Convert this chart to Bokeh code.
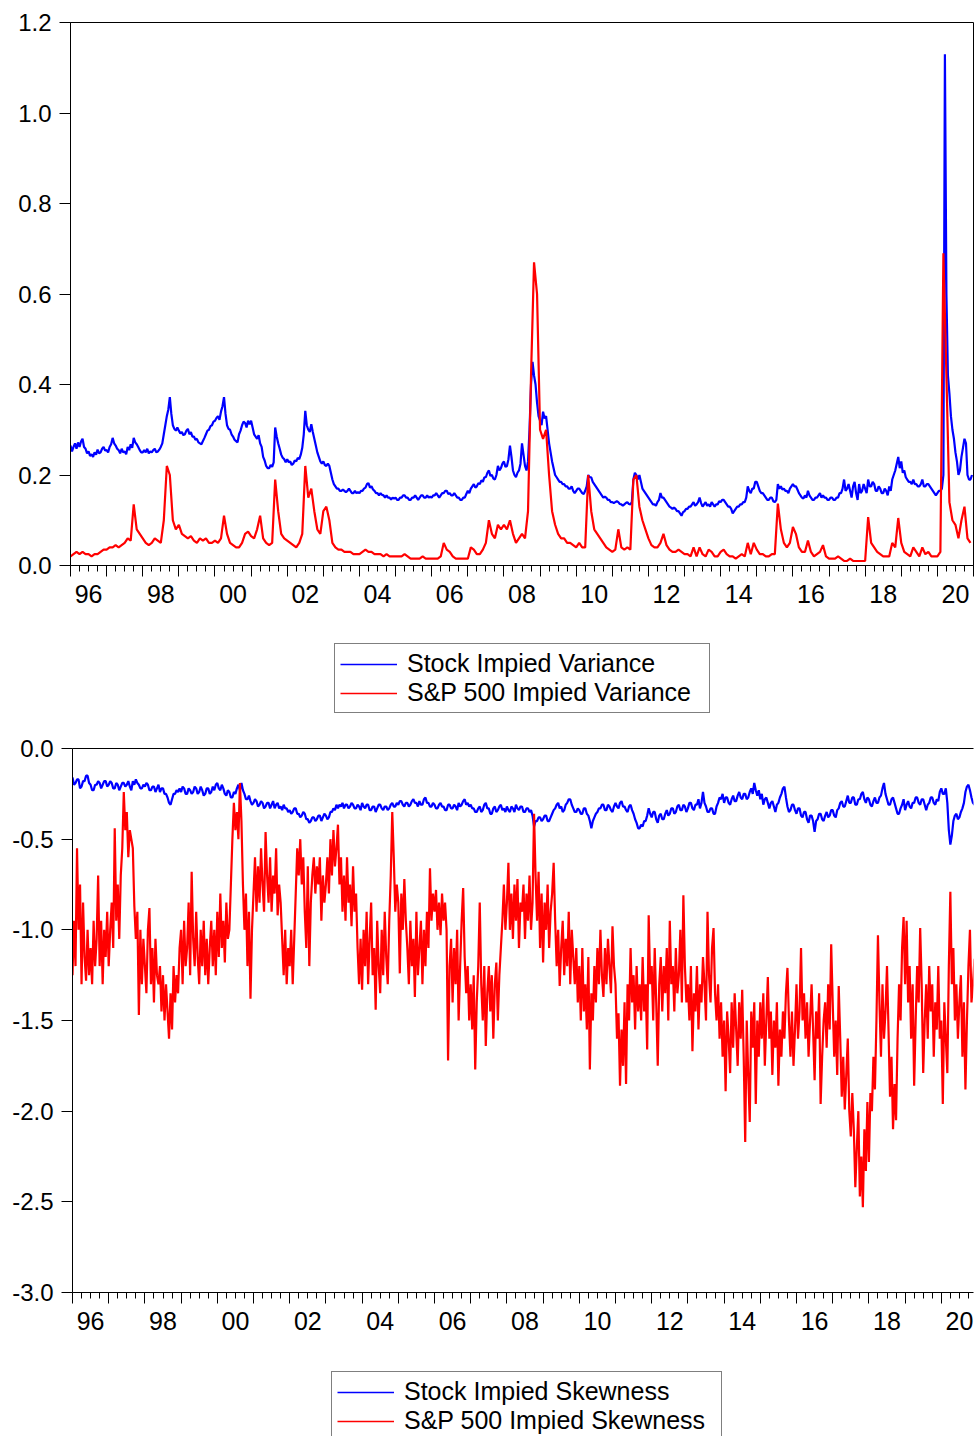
import numpy as np
from bokeh.plotting import figure
from bokeh.layouts import column
from bokeh.models import (Range1d, LinearAxis, FixedTicker, Legend, LegendItem,
                          CustomJSTickFormatter, PrintfTickFormatter, CustomLabelingPolicy)
from bokeh.embed import file_html
from bokeh.resources import INLINE

FONT = "Liberation Sans"
BLUE = "#0000FF"
RED = "#FF0000"

# ---------------- data ----------------
# stock implied variance: two readings per month from Jan 1996
stock_var = [
    0.265, 0.252, 0.262, 0.270, 0.258, 0.272, 0.262, 0.274, 0.280, 0.262, 0.258, 0.248,
    0.252, 0.242, 0.246, 0.240, 0.250, 0.245, 0.256, 0.248, 0.250, 0.258, 0.262, 0.254,  # 1996
    0.255, 0.250, 0.262, 0.268, 0.282, 0.270, 0.265, 0.258, 0.255, 0.248, 0.258, 0.250,
    0.252, 0.246, 0.262, 0.255, 0.268, 0.260, 0.282, 0.272, 0.268, 0.262, 0.255, 0.250,  # 1997
    0.250, 0.255, 0.250, 0.258, 0.248, 0.252, 0.250, 0.255, 0.258, 0.250, 0.252, 0.256,
    0.262, 0.270, 0.290, 0.310, 0.330, 0.345, 0.372, 0.335, 0.310, 0.302, 0.298, 0.305,  # 1998
    0.298, 0.292, 0.295, 0.288, 0.290, 0.298, 0.302, 0.290, 0.295, 0.285, 0.285, 0.278,
    0.280, 0.272, 0.270, 0.268, 0.275, 0.282, 0.290, 0.298, 0.300, 0.308, 0.310, 0.318,  # 1999
    0.320, 0.326, 0.330, 0.322, 0.340, 0.352, 0.372, 0.335, 0.310, 0.302, 0.300, 0.290,
    0.285, 0.278, 0.275, 0.272, 0.290, 0.298, 0.310, 0.318, 0.315, 0.305, 0.320, 0.312,  # 2000
    0.320, 0.305, 0.290, 0.285, 0.280, 0.288, 0.270, 0.262, 0.240, 0.232, 0.220, 0.215,
    0.215, 0.222, 0.218, 0.228, 0.305, 0.285, 0.270, 0.258, 0.245, 0.238, 0.235, 0.228,  # 2001
    0.235, 0.228, 0.230, 0.222, 0.225, 0.232, 0.230, 0.238, 0.235, 0.245, 0.260, 0.290,
    0.342, 0.310, 0.300, 0.295, 0.312, 0.295, 0.280, 0.265, 0.250, 0.240, 0.230, 0.225,  # 2002
    0.230, 0.222, 0.220, 0.225, 0.220, 0.205, 0.190, 0.180, 0.175, 0.170, 0.170, 0.165,
    0.165, 0.168, 0.165, 0.162, 0.165, 0.170, 0.165, 0.160, 0.160, 0.165, 0.160, 0.162,  # 2003
    0.160, 0.165, 0.165, 0.170, 0.172, 0.180, 0.182, 0.172, 0.175, 0.168, 0.165, 0.160,
    0.160, 0.155, 0.160, 0.156, 0.155, 0.150, 0.155, 0.150, 0.150, 0.146, 0.150, 0.148,  # 2004
    0.150, 0.145, 0.145, 0.150, 0.150, 0.155, 0.155, 0.150, 0.150, 0.145, 0.145, 0.150,
    0.150, 0.155, 0.150, 0.145, 0.150, 0.155, 0.155, 0.150, 0.150, 0.155, 0.150, 0.152,  # 2005
    0.150, 0.155, 0.155, 0.160, 0.155, 0.150, 0.155, 0.160, 0.160, 0.165, 0.165, 0.158,
    0.160, 0.155, 0.155, 0.160, 0.155, 0.150, 0.150, 0.145, 0.145, 0.150, 0.150, 0.158,  # 2006
    0.165, 0.160, 0.170, 0.175, 0.180, 0.172, 0.175, 0.182, 0.180, 0.188, 0.185, 0.195,
    0.195, 0.205, 0.210, 0.198, 0.200, 0.192, 0.190, 0.200, 0.220, 0.210, 0.215, 0.225,  # 2007
    0.230, 0.218, 0.220, 0.235, 0.265, 0.240, 0.210, 0.200, 0.195, 0.205, 0.210, 0.225,
    0.270, 0.245, 0.220, 0.210, 0.230, 0.300, 0.400, 0.450, 0.420, 0.400, 0.360, 0.330,  # 2008
    0.320, 0.310, 0.340, 0.325, 0.330, 0.300, 0.270, 0.250, 0.230, 0.215, 0.200, 0.195,
    0.190, 0.185, 0.185, 0.180, 0.180, 0.175, 0.175, 0.170, 0.170, 0.175, 0.165, 0.160,  # 2009
    0.165, 0.170, 0.170, 0.165, 0.160, 0.158, 0.165, 0.175, 0.200, 0.195, 0.195, 0.185,
    0.180, 0.175, 0.170, 0.165, 0.160, 0.155, 0.150, 0.152, 0.150, 0.145, 0.145, 0.140,  # 2010
    0.140, 0.138, 0.140, 0.142, 0.140, 0.136, 0.135, 0.132, 0.135, 0.138, 0.140, 0.136,
    0.135, 0.140, 0.190, 0.205, 0.200, 0.190, 0.200, 0.185, 0.170, 0.165, 0.160, 0.155,  # 2011
    0.150, 0.145, 0.140, 0.135, 0.135, 0.132, 0.140, 0.145, 0.160, 0.150, 0.150, 0.145,
    0.140, 0.135, 0.130, 0.128, 0.125, 0.128, 0.125, 0.120, 0.120, 0.115, 0.110, 0.118,  # 2012
    0.120, 0.125, 0.125, 0.130, 0.130, 0.135, 0.140, 0.132, 0.135, 0.140, 0.150, 0.138,
    0.130, 0.135, 0.140, 0.132, 0.135, 0.130, 0.140, 0.135, 0.130, 0.135, 0.135, 0.142,  # 2013
    0.140, 0.145, 0.145, 0.140, 0.135, 0.130, 0.130, 0.125, 0.115, 0.120, 0.125, 0.130,
    0.130, 0.135, 0.135, 0.140, 0.140, 0.150, 0.175, 0.165, 0.160, 0.170, 0.170, 0.185,  # 2014
    0.185, 0.175, 0.165, 0.160, 0.160, 0.155, 0.150, 0.145, 0.145, 0.150, 0.150, 0.142,
    0.140, 0.145, 0.180, 0.170, 0.175, 0.168, 0.170, 0.165, 0.165, 0.160, 0.170, 0.175,  # 2015
    0.180, 0.175, 0.175, 0.168, 0.160, 0.155, 0.150, 0.148, 0.155, 0.150, 0.165, 0.155,
    0.150, 0.145, 0.145, 0.150, 0.150, 0.155, 0.160, 0.150, 0.155, 0.150, 0.150, 0.145,  # 2016
    0.145, 0.150, 0.150, 0.145, 0.145, 0.150, 0.150, 0.160, 0.160, 0.170, 0.190, 0.165,
    0.170, 0.180, 0.165, 0.150, 0.175, 0.185, 0.160, 0.145, 0.180, 0.160, 0.165, 0.180,  # 2017
    0.170, 0.160, 0.190, 0.175, 0.175, 0.185, 0.180, 0.165, 0.165, 0.175, 0.170, 0.160,
    0.160, 0.170, 0.165, 0.155, 0.175, 0.165, 0.190, 0.200, 0.210, 0.225, 0.240, 0.215,  # 2018
    0.230, 0.205, 0.210, 0.195, 0.190, 0.185, 0.185, 0.180, 0.190, 0.180, 0.180, 0.175,
    0.175, 0.180, 0.190, 0.175, 0.175, 0.180, 0.180, 0.175, 0.170, 0.165, 0.160, 0.155,  # 2019
    0.160, 0.165, 0.165, 0.170, 0.200, 1.130, 0.600, 0.420, 0.380, 0.330, 0.300, 0.280,
    0.250, 0.230, 0.200, 0.210, 0.240, 0.260, 0.280, 0.270, 0.200, 0.190, 0.190, 0.200,  # 2020
]

# S&P 500 implied variance: one reading per month from Jan 1996
sp_var = [
    0.02, 0.025, 0.03, 0.025, 0.03, 0.025, 0.025, 0.02, 0.025, 0.025, 0.03, 0.035,   # 1996
    0.035, 0.04, 0.04, 0.045, 0.04, 0.045, 0.05, 0.06, 0.055, 0.135, 0.08, 0.07,     # 1997
    0.06, 0.05, 0.045, 0.05, 0.06, 0.055, 0.05, 0.10, 0.22, 0.20, 0.10, 0.08,        # 1998
    0.09, 0.07, 0.065, 0.06, 0.065, 0.055, 0.05, 0.06, 0.055, 0.06, 0.05, 0.05,      # 1999
    0.055, 0.05, 0.06, 0.11, 0.07, 0.05, 0.045, 0.04, 0.04, 0.05, 0.07, 0.075,       # 2000
    0.065, 0.06, 0.08, 0.11, 0.06, 0.05, 0.045, 0.05, 0.19, 0.12, 0.07, 0.06,        # 2001
    0.055, 0.05, 0.045, 0.04, 0.05, 0.07, 0.22, 0.15, 0.17, 0.12, 0.08, 0.07,        # 2002
    0.12, 0.13, 0.10, 0.05, 0.04, 0.035, 0.035, 0.03, 0.03, 0.03, 0.025, 0.025,      # 2003
    0.025, 0.03, 0.035, 0.03, 0.03, 0.025, 0.025, 0.025, 0.02, 0.025, 0.02, 0.02,    # 2004
    0.02, 0.02, 0.02, 0.025, 0.02, 0.015, 0.015, 0.015, 0.015, 0.02, 0.015, 0.015,   # 2005
    0.015, 0.015, 0.015, 0.02, 0.05, 0.035, 0.03, 0.02, 0.015, 0.015, 0.015, 0.015,  # 2006
    0.015, 0.04, 0.035, 0.025, 0.025, 0.035, 0.05, 0.10, 0.07, 0.06, 0.09, 0.08,     # 2007
    0.09, 0.08, 0.10, 0.07, 0.05, 0.06, 0.07, 0.06, 0.12, 0.42, 0.67, 0.60,          # 2008
    0.30, 0.28, 0.30, 0.20, 0.12, 0.09, 0.07, 0.06, 0.06, 0.05, 0.05, 0.045,         # 2009
    0.04, 0.05, 0.04, 0.04, 0.20, 0.12, 0.08, 0.07, 0.06, 0.05, 0.04, 0.035,         # 2010
    0.03, 0.035, 0.08, 0.04, 0.035, 0.04, 0.035, 0.19, 0.20, 0.13, 0.10, 0.08,       # 2011
    0.06, 0.045, 0.04, 0.04, 0.05, 0.07, 0.045, 0.035, 0.03, 0.03, 0.035, 0.03,      # 2012
    0.025, 0.025, 0.02, 0.04, 0.02, 0.04, 0.025, 0.02, 0.035, 0.03, 0.02, 0.02,      # 2013
    0.03, 0.035, 0.025, 0.02, 0.02, 0.015, 0.02, 0.025, 0.02, 0.05, 0.025, 0.05,     # 2014
    0.035, 0.025, 0.025, 0.02, 0.02, 0.025, 0.025, 0.137, 0.08, 0.05, 0.04, 0.05,    # 2015
    0.085, 0.07, 0.04, 0.03, 0.03, 0.055, 0.03, 0.02, 0.025, 0.03, 0.045, 0.02,      # 2016
    0.015, 0.015, 0.015, 0.02, 0.015, 0.01, 0.01, 0.015, 0.01, 0.01, 0.01, 0.01,     # 2017
    0.01, 0.107, 0.05, 0.04, 0.03, 0.025, 0.02, 0.02, 0.02, 0.05, 0.04, 0.105,       # 2018
    0.05, 0.03, 0.025, 0.02, 0.04, 0.03, 0.02, 0.04, 0.025, 0.03, 0.02, 0.02,        # 2019
    0.02, 0.03, 0.69, 0.42, 0.14, 0.10, 0.09, 0.06, 0.10, 0.13, 0.06, 0.05,          # 2020
]

# stock implied skewness: two readings per month from Jan 1996
stock_skew = [
    -0.16, -0.20, -0.19, -0.17, -0.17, -0.22, -0.21, -0.18, -0.18, -0.15, -0.15, -0.19,
    -0.20, -0.23, -0.23, -0.20, -0.20, -0.18, -0.19, -0.22, -0.20, -0.18, -0.18, -0.21,  # 1996
    -0.20, -0.18, -0.19, -0.22, -0.22, -0.19, -0.20, -0.23, -0.21, -0.19, -0.19, -0.21,
    -0.20, -0.18, -0.21, -0.23, -0.18, -0.20, -0.17, -0.19, -0.20, -0.22, -0.22, -0.20,  # 1997
    -0.21, -0.19, -0.20, -0.23, -0.23, -0.21, -0.21, -0.24, -0.22, -0.20, -0.24, -0.22,
    -0.22, -0.25, -0.25, -0.27, -0.30, -0.31, -0.28, -0.25, -0.25, -0.23, -0.24, -0.22,  # 1998
    -0.24, -0.21, -0.22, -0.25, -0.25, -0.22, -0.23, -0.25, -0.24, -0.21, -0.22, -0.25,
    -0.24, -0.21, -0.23, -0.26, -0.25, -0.22, -0.22, -0.25, -0.24, -0.21, -0.23, -0.20,  # 1999
    -0.19, -0.22, -0.23, -0.20, -0.22, -0.25, -0.26, -0.23, -0.24, -0.27, -0.27, -0.24,
    -0.25, -0.22, -0.20, -0.23, -0.19, -0.23, -0.25, -0.28, -0.28, -0.26, -0.29, -0.31,  # 2000
    -0.30, -0.28, -0.29, -0.32, -0.31, -0.29, -0.30, -0.33, -0.32, -0.30, -0.30, -0.33,
    -0.31, -0.29, -0.33, -0.31, -0.30, -0.33, -0.32, -0.34, -0.31, -0.33, -0.33, -0.35,  # 2001
    -0.34, -0.36, -0.35, -0.33, -0.33, -0.36, -0.36, -0.38, -0.37, -0.35, -0.36, -0.39,
    -0.39, -0.41, -0.40, -0.38, -0.38, -0.40, -0.39, -0.37, -0.37, -0.40, -0.38, -0.36,  # 2002
    -0.37, -0.39, -0.38, -0.35, -0.35, -0.33, -0.34, -0.31, -0.33, -0.31, -0.32, -0.30,
    -0.33, -0.31, -0.31, -0.33, -0.32, -0.30, -0.31, -0.33, -0.33, -0.31, -0.32, -0.34,  # 2003
    -0.30, -0.32, -0.33, -0.31, -0.31, -0.34, -0.34, -0.32, -0.32, -0.35, -0.33, -0.31,
    -0.31, -0.33, -0.34, -0.32, -0.32, -0.34, -0.33, -0.31, -0.30, -0.32, -0.32, -0.30,  # 2004
    -0.31, -0.29, -0.29, -0.31, -0.32, -0.30, -0.30, -0.32, -0.31, -0.29, -0.28, -0.30,
    -0.30, -0.32, -0.29, -0.31, -0.31, -0.28, -0.27, -0.30, -0.30, -0.32, -0.32, -0.30,  # 2005
    -0.31, -0.33, -0.33, -0.31, -0.30, -0.32, -0.32, -0.34, -0.34, -0.31, -0.31, -0.33,
    -0.33, -0.31, -0.32, -0.34, -0.30, -0.32, -0.31, -0.29, -0.28, -0.31, -0.30, -0.32,  # 2006
    -0.31, -0.33, -0.33, -0.35, -0.35, -0.33, -0.32, -0.35, -0.34, -0.31, -0.30, -0.33,
    -0.33, -0.36, -0.36, -0.33, -0.32, -0.35, -0.34, -0.32, -0.31, -0.34, -0.33, -0.35,  # 2007
    -0.32, -0.34, -0.35, -0.32, -0.33, -0.35, -0.31, -0.33, -0.34, -0.32, -0.32, -0.35,
    -0.35, -0.33, -0.33, -0.35, -0.34, -0.37, -0.43, -0.40, -0.40, -0.38, -0.38, -0.40,  # 2008
    -0.39, -0.37, -0.37, -0.40, -0.40, -0.38, -0.36, -0.34, -0.33, -0.31, -0.30, -0.33,
    -0.32, -0.35, -0.34, -0.31, -0.30, -0.28, -0.28, -0.31, -0.33, -0.35, -0.35, -0.33,  # 2009
    -0.34, -0.36, -0.36, -0.33, -0.33, -0.36, -0.37, -0.40, -0.44, -0.40, -0.38, -0.36,
    -0.35, -0.33, -0.33, -0.31, -0.31, -0.34, -0.34, -0.31, -0.32, -0.34, -0.35, -0.32,  # 2010
    -0.30, -0.32, -0.33, -0.30, -0.29, -0.32, -0.32, -0.34, -0.35, -0.32, -0.31, -0.34,
    -0.36, -0.39, -0.41, -0.44, -0.44, -0.42, -0.43, -0.40, -0.40, -0.37, -0.33, -0.36,  # 2011
    -0.38, -0.35, -0.35, -0.39, -0.41, -0.37, -0.36, -0.39, -0.39, -0.36, -0.34, -0.37,
    -0.36, -0.33, -0.33, -0.36, -0.35, -0.32, -0.31, -0.34, -0.34, -0.31, -0.32, -0.35,  # 2012
    -0.33, -0.30, -0.30, -0.33, -0.34, -0.31, -0.31, -0.28, -0.33, -0.30, -0.24, -0.30,
    -0.32, -0.35, -0.35, -0.33, -0.33, -0.36, -0.36, -0.32, -0.30, -0.27, -0.28, -0.25,  # 2013
    -0.30, -0.27, -0.27, -0.30, -0.31, -0.28, -0.26, -0.29, -0.29, -0.26, -0.24, -0.27,
    -0.28, -0.25, -0.25, -0.28, -0.27, -0.24, -0.22, -0.25, -0.19, -0.23, -0.26, -0.23,  # 2014
    -0.28, -0.25, -0.31, -0.28, -0.27, -0.30, -0.33, -0.30, -0.29, -0.32, -0.35, -0.31,
    -0.30, -0.27, -0.25, -0.22, -0.21, -0.27, -0.32, -0.35, -0.34, -0.31, -0.31, -0.34,  # 2015
    -0.36, -0.33, -0.33, -0.37, -0.38, -0.35, -0.35, -0.39, -0.41, -0.37, -0.37, -0.40,
    -0.46, -0.40, -0.39, -0.36, -0.36, -0.39, -0.40, -0.37, -0.35, -0.38, -0.37, -0.34,  # 2016
    -0.34, -0.37, -0.38, -0.34, -0.33, -0.30, -0.29, -0.32, -0.32, -0.29, -0.26, -0.30,
    -0.30, -0.27, -0.27, -0.31, -0.31, -0.28, -0.28, -0.25, -0.24, -0.28, -0.30, -0.27,  # 2017
    -0.28, -0.31, -0.32, -0.29, -0.27, -0.30, -0.30, -0.27, -0.26, -0.22, -0.19, -0.25,
    -0.28, -0.31, -0.31, -0.28, -0.27, -0.30, -0.33, -0.36, -0.36, -0.33, -0.31, -0.28,  # 2018
    -0.34, -0.31, -0.29, -0.32, -0.33, -0.30, -0.30, -0.27, -0.27, -0.30, -0.31, -0.28,
    -0.28, -0.31, -0.34, -0.31, -0.30, -0.27, -0.27, -0.30, -0.31, -0.28, -0.29, -0.24,  # 2019
    -0.22, -0.25, -0.25, -0.22, -0.30, -0.45, -0.53, -0.48, -0.40, -0.37, -0.36, -0.39,
    -0.38, -0.35, -0.33, -0.30, -0.24, -0.21, -0.20, -0.23, -0.27, -0.30, -0.31, -0.28,  # 2020
]

# S&P 500 implied skewness: two readings per month from Jan 1996
sp_skew = [
    -1.25, -0.95, -1.2, -0.55, -1.0, -0.75, -1.3, -0.85, -1.15, -1.28, -1.0, -1.25,
    -1.1, -1.3, -0.95, -1.2, -1.05, -0.7, -1.2, -0.95, -1.3, -1.0, -1.15, -0.9,          # 1996
    -1.2, -1.0, -0.85, -1.1, -0.44, -0.95, -0.75, -1.05, -0.7, -0.55, -0.24, -0.45,
    -0.35, -0.6, -0.45, -0.5, -0.55, -0.87, -1.05, -0.9, -1.47, -1.0, -1.3, -1.05,       # 1997
    -1.2, -1.35, -1.0, -0.88, -1.3, -1.1, -1.4, -1.05, -1.25, -1.3, -1.2, -1.45,
    -1.25, -1.5, -1.3, -1.45, -1.6, -1.35, -1.55, -1.2, -1.4, -1.25, -1.35, -1.1,        # 1998
    -1.0, -1.3, -0.95, -1.2, -1.1, -0.85, -1.25, -0.68, -1.05, -1.2, -0.9, -1.15,
    -1.3, -1.0, -1.2, -0.95, -1.25, -1.05, -1.3, -1.1, -0.95, -1.2, -1.0, -1.25,         # 1999
    -0.9, -1.15, -0.8, -1.1, -0.95, -1.18, -0.85, -1.05, -1.0, -0.75, -0.5, -0.3,
    -0.45, -0.35, -0.5, -0.19, -0.4, -0.75, -1.0, -0.8, -1.2, -0.9, -1.38, -1.0,         # 2000
    -0.8, -0.6, -0.9, -0.65, -0.85, -0.55, -0.75, -0.9, -0.46, -0.7, -0.85, -0.6,
    -0.9, -0.7, -0.8, -0.55, -0.92, -0.75, -0.85, -1.05, -1.25, -1.0, -1.3, -1.1,        # 2001
    -1.2, -1.0, -1.3, -1.05, -0.8, -0.55, -0.7, -0.5, -0.75, -0.6, -0.9, -1.1,
    -0.65, -1.2, -0.85, -0.7, -0.6, -0.8, -0.65, -0.75, -0.6, -0.95, -0.7, -0.85,        # 2002
    -0.75, -0.6, -0.8, -0.5, -0.7, -0.45, -0.65, -0.55, -0.42, -0.75, -0.6, -0.9,
    -0.7, -0.95, -0.6, -0.85, -0.75, -0.98, -0.65, -0.9, -0.8, -1.1, -1.3, -1.05,        # 2003
    -1.33, -1.0, -1.2, -0.9, -1.3, -1.05, -0.85, -1.25, -1.1, -1.44, -0.95, -1.2,
    -1.35, -1.0, -1.25, -0.9, -1.15, -1.3, -0.95, -0.7, -0.35, -0.6, -0.9, -0.75,        # 2004
    -0.85, -1.24, -0.8, -1.0, -0.72, -0.95, -1.1, -1.3, -0.95, -1.2, -1.05, -1.37,
    -0.9, -1.25, -1.1, -0.95, -1.3, -1.0, -1.2, -0.9, -1.1, -0.66, -0.95, -0.8,          # 2005
    -0.9, -0.78, -1.0, -0.85, -1.03, -0.8, -0.95, -0.85, -1.0, -1.72, -1.2, -1.05,
    -1.4, -1.1, -1.3, -1.0, -1.5, -1.2, -0.95, -0.77, -1.15, -1.35, -1.2, -1.5,          # 2006
    -1.3, -1.55, -1.25, -1.77, -1.4, -1.2, -0.85, -1.3, -1.5, -1.2, -1.64, -1.35,
    -1.2, -1.45, -1.25, -1.6, -1.3, -1.18, -1.5, -1.25, -1.1, -0.95, -0.75, -1.0,        # 2007
    -0.85, -0.63, -1.0, -0.8, -1.05, -0.75, -0.95, -0.72, -1.1, -0.85, -0.9, -0.75,
    -1.05, -0.8, -0.95, -0.7, -1.0, -0.85, -0.36, -0.7, -0.95, -0.68, -1.1, -0.8,        # 2008
    -1.18, -0.85, -1.0, -0.75, -1.1, -0.9, -0.8, -0.63, -0.95, -1.2, -1.0, -1.31,
    -1.1, -0.95, -1.25, -1.05, -1.2, -0.9, -1.3, -1.0, -1.15, -1.3, -1.1, -1.4,          # 2009
    -1.2, -1.5, -1.1, -1.45, -1.3, -1.55, -1.15, -1.77, -1.35, -1.5, -1.2, -1.4,
    -1.1, -1.3, -1.0, -1.25, -1.37, -1.1, -1.3, -1.05, -1.2, -1.35, -0.98, -1.2,         # 2010
    -1.3, -1.6, -1.46, -1.86, -1.55, -1.75, -1.4, -1.85, -1.3, -1.5, -1.1, -1.4,
    -1.25, -1.55, -1.2, -1.45, -1.3, -1.5, -1.15, -1.45, -1.3, -1.66, -0.92, -1.3,       # 2011
    -1.2, -1.5, -1.1, -1.4, -1.75, -1.3, -1.15, -1.45, -1.2, -1.35, -1.1, -1.5,
    -0.95, -1.3, -1.2, -1.45, -1.1, -1.35, -1.25, -1.0, -1.4, -0.81, -1.2, -1.4,         # 2012
    -1.3, -1.5, -1.2, -1.67, -1.35, -1.45, -1.2, -1.55, -1.3, -1.4, -1.15, -1.3,
    -1.5, -0.9, -1.25, -1.4, -1.1, -0.99, -1.35, -1.5, -1.3, -1.6, -1.4, -1.7,           # 2013
    -1.5, -1.89, -1.45, -1.6, -1.79, -1.4, -1.65, -1.35, -1.55, -1.75, -1.4, -1.6,
    -1.33, -1.7, -2.17, -1.5, -1.8, -2.06, -1.45, -1.65, -1.4, -1.96, -1.5, -1.7,        # 2014
    -1.4, -1.6, -1.35, -1.75, -1.5, -1.26, -1.6, -1.45, -1.8, -1.5, -1.65, -1.4,
    -1.86, -1.55, -1.7, -1.45, -1.6, -1.35, -1.21, -1.5, -1.7, -1.45, -1.75, -1.55,      # 2015
    -1.3, -1.6, -1.45, -1.1, -1.5, -1.35, -1.6, -1.4, -1.7, -1.5, -1.3, -1.55,
    -1.83, -1.45, -1.6, -1.35, -1.96, -1.7, -1.5, -1.4, -1.65, -1.3, -1.55, -1.08,       # 2016
    -1.4, -1.7, -1.5, -1.8, -1.31, -1.6, -1.92, -1.7, -1.99, -1.8, -1.6, -2.0,
    -2.14, -1.9, -2.1, -2.42, -2.2, -2.0, -2.47, -2.25, -2.53, -2.1, -2.33, -1.95,       # 2017
    -2.28, -1.9, -2.0, -1.7, -1.88, -1.5, -1.03, -1.4, -1.7, -1.3, -1.6, -1.45,
    -1.2, -1.55, -1.92, -1.7, -2.1, -1.85, -2.05, -1.6, -1.3, -1.5, -1.1, -0.93,         # 2018
    -1.3, -0.95, -1.4, -1.2, -1.6, -1.3, -1.86, -1.5, -1.2, -1.4, -0.99, -1.3,
    -1.79, -1.5, -1.3, -1.6, -1.2, -1.45, -1.3, -1.7, -1.4, -1.55, -1.2, -1.6,           # 2019
    -1.5, -1.96, -1.4, -1.6, -1.79, -1.2, -0.79, -1.3, -1.1, -1.5, -1.3, -1.6,
    -1.4, -1.25, -1.7, -1.4, -1.88, -1.5, -1.2, -1.0, -1.4, -1.3, -1.16, -1.35,          # 2020
]

year_labels = ["96", "98", "00", "02", "04", "06", "08", "10", "12", "14", "16", "18", "20"]
var_ticks = [0.0, 0.2, 0.4, 0.6, 0.8, 1.0, 1.2]
skew_ticks = [0.0, -0.5, -1.0, -1.5, -2.0, -2.5, -3.0]
var_names = ["Stock Impied Variance", "S&P 500 Impied Variance"]
skew_names = ["Stock Impied Skewness", "S&P 500 Impied Skewness"]

t_half = 1996 + np.arange(len(stock_var)) / 24.0
t_month = 1996 + np.arange(len(sp_var)) / 12.0

LW = 2.2


def no_labels():
    return CustomLabelingPolicy(code="""
        for (const i of indices) { indices.unset(i) }
        return indices
    """)


def add_y_axis(p, ticks):
    ax = LinearAxis(ticker=FixedTicker(ticks=ticks),
                    formatter=PrintfTickFormatter(format="%.1f"),
                    major_tick_out=11, major_tick_in=0,
                    minor_tick_line_color=None,
                    major_label_standoff=8,
                    major_label_text_font=FONT, major_label_text_font_size="24px",
                    major_label_text_color="black",
                    axis_line_color="black", major_tick_line_color="black")
    p.add_layout(ax, "left")


def add_x_axes(p):
    years = list(range(1996, 2022))
    quarters = [y + q / 4 for y in range(1996, 2021) for q in (1, 2, 3)]
    ax1 = LinearAxis(ticker=FixedTicker(ticks=years, minor_ticks=quarters),
                     major_tick_out=11, major_tick_in=0,
                     minor_tick_out=6, minor_tick_in=0,
                     major_label_policy=no_labels(), major_label_standoff=0,
                     major_label_text_font_size="1px",
                     axis_line_color="black", major_tick_line_color="black",
                     minor_tick_line_color="black")
    p.add_layout(ax1, "below")
    label_pos = [1996.5 + 2 * i for i in range(len(year_labels))]
    ax2 = LinearAxis(ticker=FixedTicker(ticks=label_pos),
                     formatter=CustomJSTickFormatter(
                         args=dict(labels=year_labels),
                         code="const i = Math.round((tick - 1996.5) / 2); return labels[i];"),
                     axis_line_color=None, major_tick_line_color=None,
                     minor_tick_line_color=None, major_tick_out=0, major_tick_in=0,
                     major_label_standoff=4,
                     major_label_text_font=FONT, major_label_text_font_size="25px",
                     major_label_text_color="black")
    p.add_layout(ax2, "below")


def legend_panel(height, names, series, loc, label_w):
    lp = figure(width=974, height=height, output_backend="svg", toolbar_location=None,
                x_range=Range1d(0, 1), y_range=Range1d(-10, 10),
                x_axis_location=None, y_axis_location=None,
                min_border_left=0, min_border_right=0, min_border_top=0,
                min_border_bottom=0, frame_align=False)
    lp.xgrid.visible = False
    lp.ygrid.visible = False
    lp.outline_line_color = None
    items = []
    for name, (tx, ys, col) in zip(names, series):
        r = lp.line(tx, ys, line_color=col, line_width=1.6)
        items.append(LegendItem(label=name, renderers=[r]))
    leg = Legend(items=items, location=loc, orientation="vertical",
                 border_line_color="black", border_line_width=1,
                 background_fill_color="white", background_fill_alpha=1.0,
                 label_text_font=FONT, label_text_font_size="25px",
                 label_text_color="black", label_width=label_w,
                 glyph_width=57, glyph_height=28, label_height=28,
                 label_standoff=10, padding=5, spacing=0, margin=0)
    lp.add_layout(leg, "center")
    return lp


# ---------------- top panel: implied variance ----------------
p1 = figure(width=974, height=620, output_backend="svg", toolbar_location=None,
            x_range=Range1d(1996, 2021), y_range=Range1d(0, 1.2),
            x_axis_location=None, y_axis_location=None,
            min_border_left=70, min_border_right=1, min_border_top=22,
            min_border_bottom=55, frame_align=False)
p1.xgrid.visible = False
p1.ygrid.visible = False
p1.outline_line_color = "black"
p1.outline_line_width = 1
add_y_axis(p1, var_ticks)
add_x_axes(p1)
p1.line(t_half, stock_var, line_color=BLUE, line_width=LW)
p1.line(t_month, sp_var, line_color=RED, line_width=LW)

leg1 = legend_panel(110, var_names,
                    [(t_half, stock_var, BLUE), (t_month, sp_var, RED)],
                    (334, 17), 297)

# ---------------- bottom panel: implied skewness ----------------
p2 = figure(width=974, height=616, output_backend="svg", toolbar_location=None,
            x_range=Range1d(1996, 1996 + 901 / 36.2), y_range=Range1d(-3.0, 0.0),
            x_axis_location=None, y_axis_location=None,
            min_border_left=72, min_border_right=1, min_border_top=18,
            min_border_bottom=54, frame_align=False)
p2.xgrid.visible = False
p2.ygrid.visible = False
p2.outline_line_color = None
top_line = LinearAxis(major_tick_line_color=None, minor_tick_line_color=None,
                      major_label_policy=no_labels(), major_label_standoff=0,
                      major_label_text_font_size="1px",
                      major_tick_out=0, major_tick_in=0,
                      axis_line_color="black", axis_line_width=1)
p2.add_layout(top_line, "above")
add_y_axis(p2, skew_ticks)
add_x_axes(p2)
p2.line(t_half, stock_skew, line_color=BLUE, line_width=LW)
p2.line(t_half, sp_skew, line_color=RED, line_width=LW)

leg2 = legend_panel(90, skew_names,
                    [(t_half, stock_skew, BLUE), (t_half, sp_skew, RED)],
                    (331, -5), 312)

layout = column(p1, leg1, p2, leg2, spacing=0)
open("out.html", "w").write(file_html(layout, INLINE))
